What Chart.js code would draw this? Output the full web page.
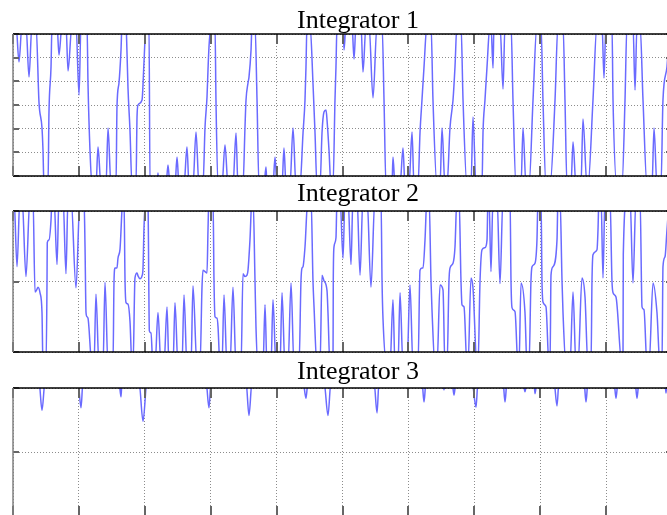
<!DOCTYPE html>
<html>
<head>
  <title>Integrators</title>
  <script src="https://cdn.jsdelivr.net/npm/chart.js"></script>
  <style>
    body { margin: 0; width: 667px; height: 515px; overflow: hidden; background: #fff; position: relative; }
    canvas { position: absolute; left: 0; }
    .ttl { position: absolute; left: 297px; font: 26px/26px "Liberation Serif", "Times New Roman", serif; color: #000; white-space: nowrap; }
  </style>
</head>
<body>
  <canvas id="c1" width="680" height="154" style="top:28px"></canvas>
  <canvas id="c2" width="680" height="153" style="top:205px"></canvas>
  <canvas id="c3" width="680" height="140" style="top:382px"></canvas>
  <div class="ttl" style="top:7px">Integrator 1</div>
  <div class="ttl" style="top:180px">Integrator 2</div>
  <div class="ttl" style="top:358px">Integrator 3</div>

  <script>
    // time axis: one unit per grid division
    const xTicks = [0, 1, 2, 3, 4, 5, 6, 7, 8, 9, 10];

    // Integrator 1 (values beyond +-3 are clipped by the axes)
    const t1 = [
      0, 0.046, 0.091, 0.137,
      0.197, 0.243, 0.288,
      0.349, 0.395, 0.440, 0.455, 0.470,
      0.531, 0.546, 0.577, 0.592,
      0.668, 0.698, 0.744,
      0.804, 0.835, 0.895,
      0.956, 1.002, 1.032,
      1.123, 1.138, 1.168, 1.199,
      1.259, 1.290, 1.335,
      1.411, 1.442, 1.487,
      1.563, 1.578, 1.608, 1.639, 1.654,
      1.715, 1.730, 1.745, 1.775, 1.806,
      1.866, 1.882, 1.897, 1.958, 1.988, 2.018,
      2.064, 2.079,
      2.185, 2.200, 2.215,
      2.322, 2.352, 2.382,
      2.458, 2.489, 2.519,
      2.595, 2.640, 2.671,
      2.731, 2.777, 2.822,
      2.883, 2.914, 2.944, 2.959, 2.974, 3.005,
      3.065, 3.080, 3.111,
      3.171, 3.217, 3.263,
      3.338, 3.384, 3.414,
      3.490, 3.520, 3.536, 3.566, 3.581, 3.612, 3.627,
      3.672, 3.703, 3.733,
      3.809, 3.839, 3.854,
      3.945, 3.976, 4.006,
      4.082, 4.112, 4.143,
      4.203, 4.249, 4.294,
      4.355, 4.401, 4.431, 4.446, 4.461,
      4.507, 4.552, 4.583, 4.613,
      4.659, 4.689, 4.719, 4.750, 4.765, 4.795, 4.825,
      4.856, 4.886, 4.901, 4.917,
      5.008, 5.023, 5.053,
      5.144, 5.175, 5.205,
      5.281, 5.311, 5.357,
      5.402, 5.463, 5.524,
      5.600, 5.630, 5.660,
      5.751, 5.766, 5.797,
      5.873, 5.918, 5.948,
      6.009, 6.055, 6.085,
      6.146, 6.176, 6.206, 6.237, 6.282,
      6.343, 6.373, 6.434,
      6.480, 6.510, 6.555,
      6.586, 6.631, 6.677, 6.707, 6.737,
      6.798, 6.829, 6.889,
      6.950, 6.980, 7.026,
      7.117, 7.132, 7.162, 7.193, 7.238,
      7.253, 7.284, 7.299,
      7.390, 7.436, 7.466,
      7.557, 7.587, 7.633,
      7.709, 7.739, 7.785,
      7.830, 7.891, 7.951,
      8.012, 8.042, 8.088,
      8.149, 8.225, 8.270,
      8.346, 8.376, 8.407,
      8.467, 8.498, 8.543,
      8.619, 8.649, 8.710,
      8.725, 8.801, 8.862,
      8.938, 8.968, 8.998,
      9.089, 9.105, 9.165,
      9.241, 9.287, 9.317,
      9.408, 9.439, 9.469,
      9.515, 9.560, 9.621,
      9.697, 9.727, 9.772,
      9.833, 9.863, 9.924, 9.970, 10
    ];
    const v1 = [
      3.4, 3.4, 1.82, 3.4,
      3.4, 1.18, 3.4,
      3.4, 0.08, -0.97, -1.90, -3.4,
      -3.4, -0.30, 1.61, 3.4,
      3.4, 2.11, 3.4,
      3.4, 1.44, 3.4,
      3.4, 0.42, 3.4,
      3.4, 0.93, -1.90, -3.4,
      -3.4, -1.77, -3.4,
      -3.4, -0.97, -3.4,
      -3.4, -0.08, 0.93, 2.32, 3.4,
      3.4, 2.20, 0.72, -1.06, -3.4,
      -3.4, -0.51, 0.00, 0.21, 1.82, 3.4,
      3.4, -3.4,
      -3.4, -2.87, -3.4,
      -3.4, -2.53, -3.4,
      -3.4, -2.20, -3.4,
      -3.4, -1.77, -3.4,
      -3.4, -1.14, -3.4,
      -3.4, -0.93, 0.34, 1.48, 2.45, 3.4,
      3.4, 0.21, -3.4,
      -3.4, -1.69, -3.4,
      -3.4, -1.18, -3.4,
      -3.4, -0.97, 0.21, 0.93, 1.18, 2.32, 3.4,
      3.4, 0.21, -3.4,
      -3.4, -2.62, -3.4,
      -3.4, -2.20, -3.4,
      -3.4, -1.82, -3.4,
      -3.4, -0.97, -3.4,
      -3.4, -1.18, 0.21, 1.61, 3.4,
      3.4, 0.93, -1.18, -3.4,
      -3.4, -1.18, -0.30, -0.21, -0.63, -1.90, -3.4,
      -3.4, 0.21, 1.61, 3.4,
      3.4, 2.32, 3.4,
      3.4, 1.94, 3.4,
      3.4, 1.39, 3.4,
      3.4, 0.30, 3.4,
      3.4, 0.21, -3.4,
      -3.4, -2.20, -3.4,
      -3.4, -1.82, -3.4,
      -3.4, -1.14, -3.4,
      -3.4, -1.18, 0.21, 1.61, 3.4,
      3.4, 0.21, -3.4,
      -3.4, -0.97, -3.4,
      -3.4, -0.97, 0.21, 1.61, 3.4,
      3.4, 0.21, -3.4,
      -3.4, -0.51, -3.4,
      -3.4, -1.18, 0.21, 1.61, 3.4,
      3.4, 1.56, 3.4,
      3.4, 0.68, 3.4,
      3.4, 0.21, -3.4,
      -3.4, -0.97, -3.4,
      -3.4, 0.21, 3.4,
      3.4, 0.21, -3.4,
      -3.4, 0.21, 3.4,
      3.4, 0.21, -3.4,
      -3.4, -1.56, -3.4,
      -3.4, -0.59, -3.4,
      -3.4, 0.21, 3.4,
      3.4, 1.14, 3.4,
      3.4, 0.21, -3.4,
      -3.4, 0.21, 3.4,
      3.4, 0.63, 3.4,
      3.4, 0.21, -3.4,
      -3.4, -0.97, -3.4,
      -3.4, 0.21, 1.61, 3.4, 3.4
    ];

    // Integrator 2 (clipped at +-1)
    const t2 = [
      0, 0.015, 0.061, 0.106,
      0.137, 0.197, 0.258,
      0.303, 0.334, 0.364, 0.379, 0.410, 0.440, 0.455,
      0.501, 0.516, 0.520, 0.546, 0.577, 0.592,
      0.622, 0.668, 0.698,
      0.759, 0.804, 0.835,
      0.880, 0.956, 1.017,
      1.077, 1.093, 1.108, 1.123, 1.138, 1.199,
      1.229, 1.259, 1.305,
      1.366, 1.396, 1.442,
      1.517, 1.533, 1.548, 1.578, 1.593, 1.624, 1.669,
      1.684, 1.700, 1.715, 1.745, 1.775, 1.806,
      1.821, 1.851, 1.882, 1.897, 1.927, 1.958, 1.973, 1.988, 2.018,
      2.049, 2.060, 2.069, 2.094, 2.124,
      2.155, 2.200, 2.246,
      2.291, 2.337, 2.367,
      2.428, 2.458, 2.504,
      2.564, 2.595, 2.640,
      2.701, 2.731, 2.792,
      2.838, 2.868, 2.883, 2.914, 2.944, 2.959, 2.974,
      3.035, 3.050, 3.065, 3.096, 3.111, 3.141,
      3.171, 3.202, 3.247,
      3.293, 3.338, 3.384,
      3.460, 3.490, 3.520, 3.551, 3.566, 3.596, 3.627,
      3.642, 3.672, 3.687, 3.718,
      3.794, 3.824, 3.854,
      3.915, 3.945, 3.991,
      4.052, 4.082, 4.127,
      4.173, 4.219, 4.264,
      4.340, 4.370, 4.385, 4.401, 4.431, 4.476,
      4.522, 4.552, 4.568, 4.613,
      4.659, 4.689, 4.719, 4.765, 4.780, 4.810,
      4.856, 4.860, 4.871, 4.901, 4.917,
      4.962, 5.008, 5.038,
      5.083, 5.129, 5.159,
      5.220, 5.266, 5.311,
      5.372, 5.432, 5.493,
      5.584, 5.600, 5.615, 5.675,
      5.721, 5.766, 5.797,
      5.842, 5.873, 5.918,
      5.979, 6.024, 6.070,
      6.146, 6.176, 6.206, 6.222, 6.252, 6.282,
      6.313, 6.343, 6.358, 6.404,
      6.434, 6.480, 6.525, 6.555,
      6.586, 6.616, 6.631, 6.677, 6.707, 6.737,
      6.768, 6.798, 6.813, 6.844, 6.889,
      6.904, 6.950, 6.980, 7.041,
      7.056, 7.087, 7.117, 7.162, 7.193, 7.208,
      7.223, 7.253, 7.284,
      7.345, 7.390, 7.436,
      7.542, 7.557, 7.572, 7.618, 7.663,
      7.678, 7.709, 7.769, 7.800,
      7.830, 7.860, 7.876, 7.921, 7.951, 7.967,
      8.012, 8.027, 8.042, 8.088, 8.134,
      8.149, 8.164, 8.194, 8.255, 8.270,
      8.300, 8.331, 8.346, 8.392,
      8.452, 8.498, 8.543,
      8.574, 8.634, 8.680, 8.725,
      8.771, 8.786, 8.801, 8.862, 8.877, 8.892,
      8.923, 8.953, 8.983,
      9.059, 9.089, 9.105, 9.150, 9.241,
      9.256, 9.261, 9.317,
      9.363, 9.408, 9.454,
      9.515, 9.545, 9.575, 9.621,
      9.651, 9.712, 9.772, 9.818,
      9.848, 9.863, 9.894, 9.924, 9.970, 10
    ];
    const v2 = [
      1.2, 1.2, 0.21, 1.2,
      1.2, 0.07, 1.2,
      1.2, -0.15, -0.11, -0.08, -0.16, -0.44, -1.2,
      -1.2, -0.02, 0.55, 0.59, 0.87, 1.2,
      1.2, 0.24, 1.2,
      1.2, 0.11, 1.2,
      1.2, -0.09, 1.2,
      1.2, 0.49, -0.44, -0.50, -0.52, -1.2,
      -1.2, -0.18, -1.2,
      -1.2, -0.01, -1.2,
      -1.2, 0.01, 0.19, 0.19, 0.33, 0.46, 1.2,
      1.2, 0.01, -0.30, -0.32, -0.56, -1.2,
      -1.2, 0.05, 0.12, 0.08, 0.04, 0.08, 0.19, 0.77, 1.2,
      1.2, 0.01, -0.70, -0.73, -1.2,
      -1.2, -0.44, -1.2,
      -1.2, -0.36, -1.2,
      -1.2, -0.30, -1.2,
      -1.2, -0.19, -1.2,
      -1.2, -0.06, -1.2,
      -1.2, -0.08, 0.16, 0.14, 0.12, 0.73, 1.2,
      1.2, 0.01, -0.50, -0.52, -0.64, -1.2,
      -1.2, -0.19, -1.2,
      -1.2, -0.08, -1.2,
      -1.2, 0.11, 0.07, 0.09, 0.16, 0.59, 1.2,
      1.2, 0.02, -0.64, -1.2,
      -1.2, -0.33, -1.2,
      -1.2, -0.26, -1.2,
      -1.2, -0.16, -1.2,
      -1.2, -0.02, -1.2,
      -1.2, 0.01, 0.19, 0.21, 0.49, 1.2,
      1.2, 0.01, -0.36, -1.2,
      -1.2, 0.09, 0.01, -0.13, -0.45, -1.2,
      -1.2, 0.01, 0.49, 0.62, 1.2,
      1.2, 0.33, 1.2,
      1.2, 0.24, 1.2,
      1.2, 0.09, 1.2,
      1.2, -0.08, 1.2,
      1.2, 0.01, -0.54, -1.2,
      -1.2, -0.26, -1.2,
      -1.2, -0.16, -1.2,
      -1.2, -0.05, -1.2,
      -1.2, 0.16, 0.19, 0.19, 0.59, 1.2,
      1.2, 0.01, -0.40, -1.2,
      -1.2, -0.05, -0.12, -1.2,
      -1.2, 0.01, 0.19, 0.26, 0.49, 1.2,
      1.2, 0.01, -0.33, -0.36, -1.2,
      -1.2, 0.05, -0.09, -1.2,
      -1.2, 0.01, 0.45, 0.48, 0.59, 1.2,
      1.2, 0.14, 1.2,
      1.2, -0.03, 1.2,
      1.2, 0.01, -0.37, -0.43, -1.2,
      -1.2, -0.02, -0.44, -1.2,
      -1.2, 0.01, 0.21, 0.26, 0.59, 1.2,
      1.2, 0.01, -0.29, -0.36, -1.2,
      -1.2, 0.09, 0.21, 0.59, 1.2,
      1.2, 0.01, -0.44, -1.2,
      -1.2, -0.15, -1.2,
      -1.2, 0.05, -0.22, -1.2,
      -1.2, 0.01, 0.38, 0.45, 0.73, 1.2,
      1.2, 0.05, 1.2,
      1.2, 0.01, -0.16, -0.22, -1.2,
      -1.2, 0.38, 1.2,
      1.2, -0.02, 1.2,
      1.2, -0.36, -0.40, -1.2,
      -1.2, -0.02, -0.44, -1.2,
      -1.2, 0.21, 0.35, 0.73, 1.2, 1.2
    ];

    // Integrator 3 (mostly above +1, only short dips show)
    const t3 = [
      0, 0.395, 0.440, 0.486,
      0.986, 1.032, 1.062,
      1.608, 1.639, 1.654,
      1.912, 1.973, 2.033,
      2.929, 2.974, 3.005,
      3.536, 3.581, 3.627,
      4.401, 4.446, 4.476,
      4.719, 4.780, 4.825,
      5.478, 5.524, 5.554,
      6.206, 6.237, 6.267,
      6.525, 6.540, 6.555,
      6.662, 6.692, 6.722,
      6.965, 7.026, 7.056,
      7.436, 7.466, 7.496,
      7.739, 7.769, 7.800,
      7.906, 7.921, 7.951,
      8.209, 8.255, 8.285,
      8.665, 8.695, 8.725,
      8.983, 8.998, 9.014,
      9.120, 9.150, 9.181,
      9.439, 9.469, 9.499,
      9.894, 9.909, 9.924, 10
    ];
    const v3 = [
      1.1, 1.1, 0.65, 1.1,
      1.1, 0.69, 1.1,
      1.1, 0.86, 1.1,
      1.1, 0.48, 1.1,
      1.1, 0.69, 1.1,
      1.1, 0.57, 1.1,
      1.1, 0.84, 1.1,
      1.1, 0.57, 1.1,
      1.1, 0.61, 1.1,
      1.1, 0.78, 1.1,
      1.1, 0.97, 1.1,
      1.1, 0.89, 1.1,
      1.1, 0.70, 1.1,
      1.1, 0.78, 1.1,
      1.1, 0.94, 1.1,
      1.1, 0.91, 1.1,
      1.1, 0.72, 1.1,
      1.1, 0.78, 1.1,
      1.1, 0.97, 1.1,
      1.1, 0.84, 1.1,
      1.1, 0.84, 1.1,
      1.1, 0.92, 1.1, 1.1
    ];

    // matlab-ish box: black top/bottom, grey left, inward tick marks
    const frame = {
      id: 'frame',
      afterDraw(chart) {
        const { ctx, chartArea: a, scales: { x, y } } = chart;
        ctx.save();
        ctx.strokeStyle = '#666';
        ctx.lineWidth = 2;
        ctx.beginPath();
        x.ticks.forEach(tk => {
          const px = Math.round(x.getPixelForValue(tk.value));
          ctx.moveTo(px, a.top); ctx.lineTo(px, a.top + 10);
          ctx.moveTo(px, a.bottom); ctx.lineTo(px, a.bottom - 10);
        });
        y.ticks.forEach(tk => {
          const py = Math.round(y.getPixelForValue(tk.value));
          ctx.moveTo(a.left, py); ctx.lineTo(a.left + 6, py);
          ctx.moveTo(a.right, py); ctx.lineTo(a.right - 6, py);
        });
        ctx.stroke();
        ctx.strokeStyle = '#000';
        ctx.lineWidth = 1.5;
        ctx.beginPath();
        ctx.moveTo(a.left, a.top); ctx.lineTo(a.right, a.top);
        ctx.moveTo(a.left, a.bottom); ctx.lineTo(a.right, a.bottom);
        ctx.moveTo(a.right, a.top); ctx.lineTo(a.right, a.bottom);
        ctx.stroke();
        ctx.strokeStyle = '#808080';
        ctx.beginPath();
        ctx.moveTo(a.left, a.top); ctx.lineTo(a.left, a.bottom);
        ctx.stroke();
        ctx.restore();
      }
    };

    function makeChart(id, xs, ys, yMin, yMax) {
      return new Chart(document.getElementById(id), {
        type: 'line',
        data: {
          datasets: [{
            data: xs.map((x, i) => ({ x: x, y: ys[i] })),
            borderColor: '#6a6aff',
            borderWidth: 1.5,
            pointRadius: 0,
            cubicInterpolationMode: 'monotone'
          }]
        },
        options: {
          responsive: false,
          animation: false,
          events: [],
          layout: { padding: { left: 13, right: 8, top: 6, bottom: 6 }, autoPadding: false },
          plugins: { legend: { display: false }, tooltip: { enabled: false }, title: { display: false } },
          scales: {
            x: {
              type: 'linear', min: xTicks[0], max: xTicks[xTicks.length - 1],
              ticks: { display: false, stepSize: 1 },
              grid: { color: '#8c8c8c', lineWidth: 1, drawTicks: false },
              border: { display: false, dash: [1, 2] },
              afterFit: s => { s.height = 0; }
            },
            y: {
              min: yMin, max: yMax,
              ticks: { display: false, stepSize: 1 },
              grid: { color: '#8c8c8c', lineWidth: 1, drawTicks: false },
              border: { display: false, dash: [1, 2] },
              afterFit: s => { s.width = 0; }
            }
          }
        },
        plugins: [frame]
      });
    }

    makeChart('c1', t1, v1, -3, 3);
    makeChart('c2', t2, v2, -1, 1);
    makeChart('c3', t3, v3, -1, 1);
  </script>
</body>
</html>
